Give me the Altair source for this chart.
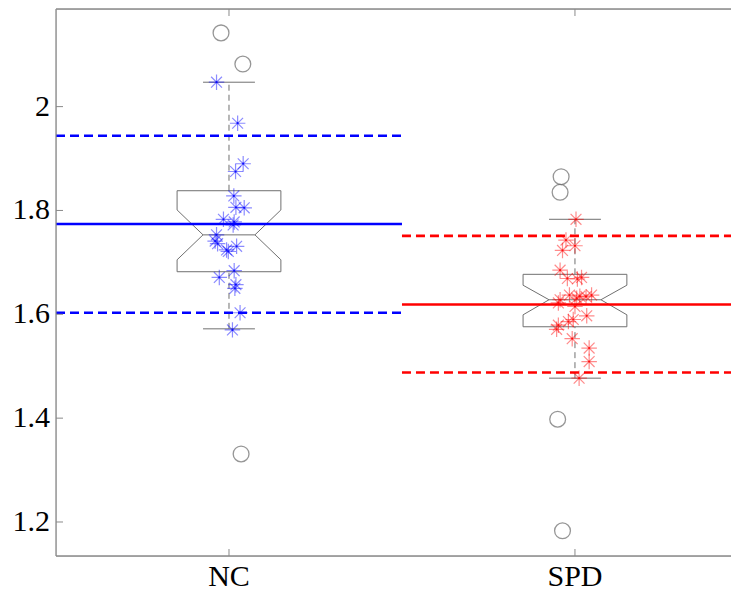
import altair as alt
import pandas as pd

groups = ["NC", "SPD"]
centers = [1, 2]
colors = ["#0000ff", "#ff0000"]

# box statistics
q1 = [1.682, 1.576]
med = [1.753, 1.628]
q3 = [1.838, 1.677]
notch_lo = [1.705, 1.599]
notch_hi = [1.801, 1.656]
whisk_lo = [1.572, 1.477]
whisk_hi = [2.047, 1.783]
means = [1.774, 1.619]
sd_lo = [1.603, 1.488]
sd_hi = [1.944, 1.751]

# scattered observations (jitter offset, value)
nc_jit = [-0.036, 0.025, 0.041, 0.019, 0.014, 0.020, 0.044, -0.016, 0.015, 0.012,
          -0.036, -0.040, -0.033, 0.022, -0.002, -0.007, 0.015, -0.028, 0.020, 0.017,
          0.032, 0.010]
nc_val = [2.047, 1.968, 1.890, 1.875, 1.828, 1.806, 1.805, 1.783, 1.778, 1.772,
          1.753, 1.741, 1.736, 1.731, 1.721, 1.724, 1.684, 1.671, 1.657, 1.650,
          1.603, 1.570]
spd_jit = [0.003, -0.026, 0.000, -0.036, -0.043, -0.022, 0.007, 0.019, -0.016, 0.014,
           0.032, 0.048, -0.043, 0.005, -0.048, 0.000, 0.034, -0.005, -0.019, -0.048,
           -0.053, -0.008, 0.041, 0.041, 0.012]
spd_val = [1.783, 1.743, 1.732, 1.723, 1.685, 1.669, 1.668, 1.671, 1.637, 1.635,
           1.634, 1.637, 1.628, 1.631, 1.622, 1.615, 1.597, 1.590, 1.586, 1.579,
           1.571, 1.553, 1.535, 1.509, 1.477]

# outliers (jitter offset, value)
nc_out_jit = [-0.023, 0.040, 0.035]
nc_out_val = [2.142, 2.082, 1.331]
spd_out_jit = [-0.040, -0.043, -0.050, -0.036]
spd_out_val = [1.865, 1.835, 1.398, 1.183]

y_ticks = [1.2, 1.4, 1.6, 1.8, 2.0]
y_tick_labels = ["1.2", "1.4", "1.6", "1.8", "2"]

HW = 0.15   # box half width
NW = 0.075  # notch waist half width
XDOM = [0.5, 2.451]
YDOM = [1.1345, 2.188]
W, H = 675, 547
GRAY = "#707070"
AX = "#8a8a8a"
FONT = "Liberation Serif"

xs = alt.Scale(domain=XDOM, nice=False, zero=False)
ys = alt.Scale(domain=YDOM, nice=False, zero=False)

# notched box outlines
rows = []
for g, c in enumerate(centers):
    pts = [(-HW, q3[g]), (HW, q3[g]), (HW, notch_hi[g]), (NW, med[g]), (HW, notch_lo[g]),
           (HW, q1[g]), (-HW, q1[g]), (-HW, notch_lo[g]), (-NW, med[g]), (-HW, notch_hi[g]),
           (-HW, q3[g])]
    for i, (dx, yv) in enumerate(pts):
        rows.append({"g": groups[g], "o": i, "x": c + dx, "y": yv})
box_df = pd.DataFrame(rows)

seg = []
for g, c in enumerate(centers):
    seg.append({"g": groups[g], "x": c - NW, "x2": c + NW, "y": med[g]})
    seg.append({"g": groups[g], "x": c - NW, "x2": c + NW, "y": whisk_hi[g]})
    seg.append({"g": groups[g], "x": c - NW, "x2": c + NW, "y": whisk_lo[g]})
seg_df = pd.DataFrame(seg)

wh = []
for g, c in enumerate(centers):
    wh.append({"g": groups[g], "x": c, "y": q3[g], "y2": whisk_hi[g]})
    wh.append({"g": groups[g], "x": c, "y": whisk_lo[g], "y2": q1[g]})
wh_df = pd.DataFrame(wh)

mean_df = pd.DataFrame({"g": groups, "x": [c - 0.5 for c in centers], "x2": [c + 0.5 for c in centers],
                        "y": means})
sd_rows = []
for g, c in enumerate(centers):
    sd_rows.append({"g": groups[g], "x": c - 0.5, "x2": c + 0.5, "y": sd_hi[g]})
    sd_rows.append({"g": groups[g], "x": c - 0.5, "x2": c + 0.5, "y": sd_lo[g]})
sd_df = pd.DataFrame(sd_rows)

pts_df = pd.DataFrame(
    [{"g": "NC", "x": 1 + j, "y": v} for j, v in zip(nc_jit, nc_val)] +
    [{"g": "SPD", "x": 2 + j, "y": v} for j, v in zip(spd_jit, spd_val)])
out_df = pd.DataFrame(
    [{"g": "NC", "x": 1 + j, "y": v} for j, v in zip(nc_out_jit, nc_out_val)] +
    [{"g": "SPD", "x": 2 + j, "y": v} for j, v in zip(spd_out_jit, spd_out_val)])

color = alt.Color("g:N", scale=alt.Scale(domain=groups, range=colors), legend=None)
X = alt.X("x:Q", scale=xs, axis=None)
Y = alt.Y("y:Q", scale=ys, axis=None)

box = alt.Chart(box_df).mark_line(color=GRAY, strokeWidth=1).encode(
    x=X, y=Y, order="o:Q", detail="g:N")
segs = alt.Chart(seg_df).mark_rule(color=GRAY, strokeWidth=1).encode(
    x=X, x2="x2:Q", y=Y)
whisk = alt.Chart(wh_df).mark_rule(color=GRAY, strokeWidth=1, strokeDash=[6, 4]).encode(
    x=X, y=Y, y2="y2:Q")
outl = alt.Chart(out_df).mark_point(shape="circle", filled=False, size=250, color="#6a6a6a",
                                    strokeWidth=1.3).encode(x=X, y=Y)

AST = "M-1,0L1,0M0,-1L0,1M-0.7,-0.7L0.7,0.7M-0.7,0.7L0.7,-0.7"
pts = alt.Chart(pts_df).mark_point(shape=AST, filled=False, size=240, strokeWidth=1.2,
                                   opacity=0.45).encode(x=X, y=Y, color=color)
dots = alt.Chart(pts_df).mark_point(shape="circle", filled=True, size=5, opacity=0.9).encode(
    x=X, y=Y, color=color)

mean_l = alt.Chart(mean_df).mark_rule(strokeWidth=2.6).encode(x=X, x2="x2:Q", y=Y, color=color)
sd_l = alt.Chart(sd_df).mark_rule(strokeWidth=2.6, strokeDash=[9, 5]).encode(
    x=X, x2="x2:Q", y=Y, color=color)

# frame lines
frame_df = pd.DataFrame({"x": [XDOM[0]], "x2": [XDOM[1]], "y": [YDOM[0]], "y2": [YDOM[1]]})
top_l = alt.Chart(frame_df).mark_rule(color=AX, strokeWidth=1.3).encode(
    x=X, x2="x2:Q", y=alt.value(0))
bot_l = alt.Chart(frame_df).mark_rule(color=AX, strokeWidth=1.3).encode(
    x=X, x2="x2:Q", y=alt.value(H))
left_l = alt.Chart(frame_df).mark_rule(color=AX, strokeWidth=1.3).encode(
    y=Y, y2="y2:Q", x=alt.value(0))

# inward tick marks
yt_df = pd.DataFrame({"y": y_ticks, "label": y_tick_labels})
xt_df = pd.DataFrame({"x": centers, "label": groups})
ytk = alt.Chart(yt_df).mark_rule(color=AX, strokeWidth=1).encode(
    y=Y, x=alt.value(0), x2=alt.value(7))
xtk_b = alt.Chart(xt_df).mark_rule(color=AX, strokeWidth=1).encode(
    x=X, y=alt.value(H), y2=alt.value(H - 7))
xtk_t = alt.Chart(xt_df).mark_rule(color=AX, strokeWidth=1).encode(
    x=X, y=alt.value(0), y2=alt.value(7))

# tick labels
ylab = alt.Chart(yt_df).mark_text(font=FONT, fontSize=30, color="black", align="right",
                                  baseline="middle", dx=-6).encode(
    y=Y, x=alt.value(0), text="label:N")
xlab = alt.Chart(xt_df).mark_text(font=FONT, fontSize=30, color="black", align="center",
                                  baseline="top", dy=6).encode(
    x=X, y=alt.value(H), text="label:N")

chart = alt.layer(box, segs, whisk, outl, mean_l, sd_l, pts, dots,
                  top_l, bot_l, left_l, ytk, xtk_b, xtk_t, ylab, xlab).properties(
    width=W, height=H, autosize="none",
    padding={"left": 48, "top": 1, "right": 0, "bottom": 40},
).configure_view(stroke=None, clip=False).configure(background="white")

chart.save("out.html", embed_options={"renderer": "svg", "actions": False})
